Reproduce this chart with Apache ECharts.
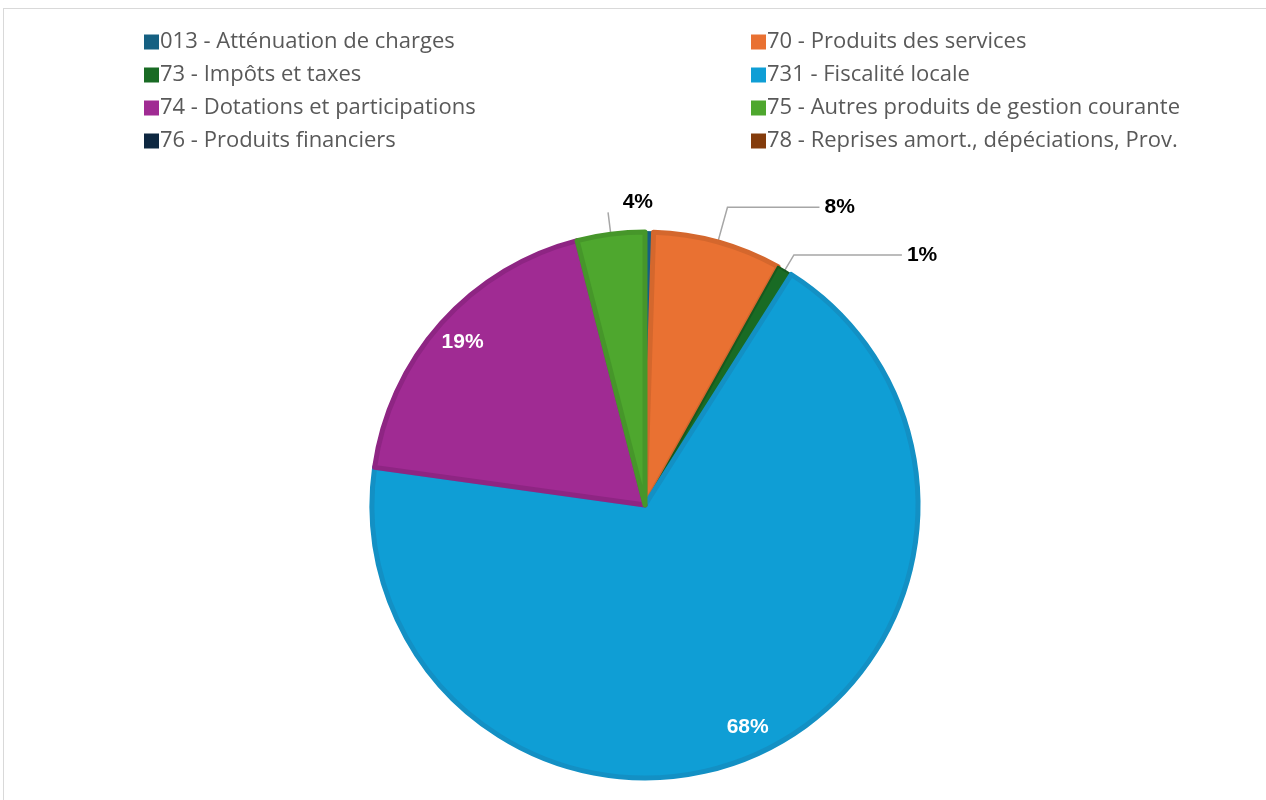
<!DOCTYPE html>
<html><head><meta charset="utf-8">
<script src="https://cdn.jsdelivr.net/npm/echarts@6/dist/echarts.min.js"></script>
<style>
html,body{margin:0;padding:0;background:#fff;overflow:hidden;}
#frame{position:absolute;left:3px;top:8px;width:1400px;height:900px;border:1px solid #d9d9d9;box-sizing:border-box;}
#chart{position:absolute;left:0;top:0;width:1266px;height:800px;}
</style></head>
<body>
<div id="frame"></div>
<div id="chart"></div>
<script>
const categories = ["013 - Atténuation de charges","70 - Produits des services","73 - Impôts et taxes","731 - Fiscalité locale","74 - Dotations et participations","75 - Autres produits de gestion courante","76 - Produits financiers","78 - Reprises amort., dépéciations, Prov."];
const values = [0.5, 7.6, 0.9, 68.2, 18.8, 4.0, 0, 0];
const colors = ["#156082","#E97132","#196B24","#0F9ED5","#A02B93","#4EA72E","#0E2841","#843C0C"];
const borderColors = ["#156082","#d4672d","#155a1e","#1390c4","#8e2583","#46962a","#0b2136","#6f320a"];
const outsideLabels = ["70 - Produits des services","73 - Impôts et taxes","75 - Autres produits de gestion courante"];
const insideLabels = ["731 - Fiscalité locale","74 - Dotations et participations"];
const leftLegend = [categories[0],categories[2],categories[4],categories[6]];
const rightLegend = [categories[1],categories[3],categories[5],categories[7]];

const lineCfg = {
  "70 - Produits des services": {length: 36, length2: 92},
  "73 - Impôts et taxes": {length: 18, length2: 108},
  "75 - Autres produits de gestion courante": {length: 22, length2: 0}
};

const chart = echarts.init(document.getElementById('chart'));
const center = [645, 505];
const R = 273;

const mainData = categories.map((c,i)=>({
  name: c, value: values[i],
  itemStyle: {color: colors[i], borderColor: borderColors[i], borderWidth: values[i] > 0 ? (values[i] < 1 ? 2 : 5) : 0},
  label: {show: outsideLabels.includes(c)},
  labelLine: Object.assign({show: outsideLabels.includes(c)}, lineCfg[c] || {})
}));
const overlayData = categories.map((c,i)=>({
  name: c, value: values[i],
  label: {show: insideLabels.includes(c)}
}));

const legendText = {fontFamily: '"Open Sans", sans-serif', fontSize: 22, lineHeight: 22, color: '#595959', padding: [0,0,0,-4]};
const legendItem = {borderWidth: 0};

chart.setOption({
  animation: false,
  color: colors,
  legend: [
    {data: leftLegend, orient: 'vertical', left: 139, top: 26, icon: 'rect', itemWidth: 15, itemHeight: 15, itemGap: 11, selectedMode: false, itemStyle: legendItem, textStyle: legendText},
    {data: rightLegend, orient: 'vertical', left: 746, top: 26, icon: 'rect', itemWidth: 15, itemHeight: 15, itemGap: 11, selectedMode: false, itemStyle: legendItem, textStyle: legendText}
  ],
  series: [
    {
      type: 'pie', center: center, radius: [0, R], startAngle: 90, clockwise: true,
      avoidLabelOverlap: false, silent: true,
      label: {position: 'outside', formatter: p => Math.round(p.percent) + '%', fontFamily: '"Liberation Sans", Arial, sans-serif', fontWeight: 'bold', fontSize: 21, color: '#000'},
      labelLine: {lineStyle: {color: '#a6a6a6', width: 1.5}, smooth: false},
      labelLayout: function (p) {
        if (p.dataIndex === 5) return {dx: 50, dy: -10};
        return {};
      },
      data: mainData
    },
    {
      type: 'pie', center: center, radius: [210, R], startAngle: 90, clockwise: true,
      silent: true, itemStyle: {color: 'rgba(0,0,0,0)'}, emphasis: {disabled: true},
      label: {position: 'inside', formatter: p => Math.round(p.percent) + '%', fontFamily: '"Liberation Sans", Arial, sans-serif', fontWeight: 'bold', fontSize: 21, color: '#fff'},
      labelLine: {show: false},
      data: overlayData
    }
  ]
});
</script>
</body></html>
